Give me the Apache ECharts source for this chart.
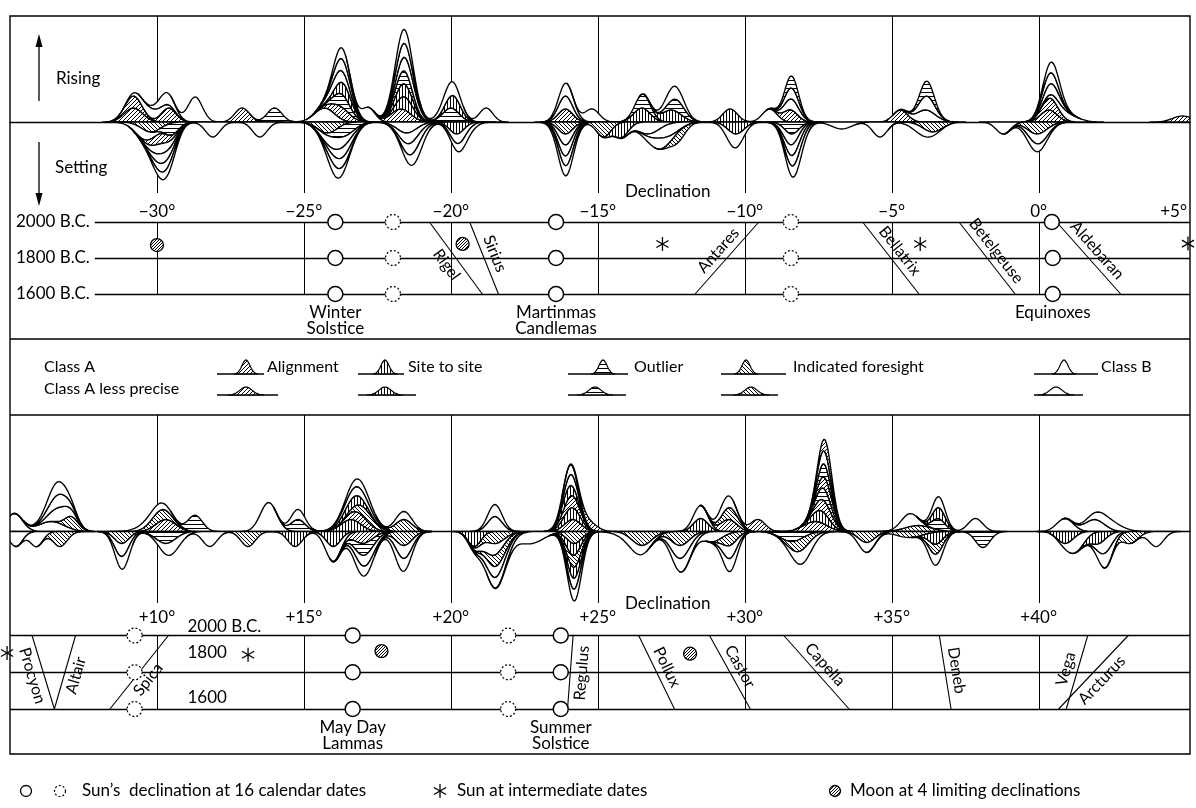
<!DOCTYPE html>
<html><head><meta charset="utf-8">
<script src="https://cdn.jsdelivr.net/npm/echarts@6/dist/echarts.min.js"></script>
<style>html,body{margin:0;padding:0;background:#fff}#c{width:1196px;height:808px}</style>
</head><body><div id="c"></div><script>
// ---------------- DATA ----------------
// bumps: [declination, height, class, spread]  a=alignment s=site-to-site o=outlier f=indicated foresight b=class B
const topRising = [
 [-30.8,14,'a',0.28],[-30.8,12,'a',0.25],[-29.6,14,'a',0.22],[-30.2,10,'b',0.35],[-29.7,12,'b',0.25],
 [-28.7,25,'b',0.22],[-27.1,14,'a',0.22],[-26.0,14,'o',0.22],
 [-24.3,14,'b',0.3],[-23.75,12,'a',0.28],[-23.7,13,'o',0.25],[-23.65,12,'s',0.25],[-23.8,12,'b',0.3],[-23.7,12,'b',0.27],[-23.7,11,'b',0.25],
 [-22.8,14,'b',0.2],
 [-21.7,13,'a',0.3],[-21.55,13,'s',0.25],[-21.6,13,'s',0.25],[-21.6,13,'o',0.25],[-21.5,14,'b',0.3],[-21.6,14,'b',0.27],[-21.6,14,'b',0.27],
 [-20.0,14,'o',0.25],[-19.9,13,'s',0.22],[-20.0,14,'b',0.28],[-18.8,14,'b',0.2],
 [-16.1,13,'a',0.22],[-16.1,13,'b',0.22],[-16.05,13,'b',0.24],[-15.2,13,'b',0.22],
 [-13.5,14,'s',0.25],[-13.45,14,'o',0.22],[-12.5,12,'s',0.3],[-12.3,12,'o',0.25],[-12.4,13,'b',0.27],
 [-10.5,13,'s',0.22],[-9.15,13,'b',0.22],
 [-8.45,12,'a',0.22],[-8.4,11,'b',0.24],[-8.4,11,'b',0.22],[-8.4,12,'o',0.2],
 [-4.7,12,'a',0.22],[-3.85,12,'b',0.3],[-3.8,14,'b',0.24],[-3.8,15,'o',0.2],
 [0.35,12,'a',0.25],[0.4,12,'a',0.25],[0.9,8,'b',0.35],[0.45,11,'b',0.25],[0.4,11,'b',0.24],[0.5,11,'b',0.25],
 [4.9,6,'a',0.3]
];
const topSetting = [
 [-30.2,10,'f',0.3],[-29.5,12,'o',0.22],[-30.5,10,'b',0.3],[-29.9,10,'a',0.28],[-29.85,10,'b',0.3],[-29.8,10,'b',0.28],[-29.75,9,'b',0.28],[-29.7,8,'b',0.3],
 [-28.1,15,'b',0.22],[-26.5,15,'b',0.22],
 [-24.2,11,'f',0.3],[-23.6,12,'o',0.3],[-23.9,12,'b',0.35],[-23.7,10,'b',0.3],[-23.8,10,'b',0.3],[-23.9,10,'b',0.25],
 [-21.5,11,'b',0.3],[-21.4,11,'b',0.3],[-21.3,12,'b',0.28],[-21.2,12,'b',0.28],
 [-19.8,12,'s',0.22],[-19.7,10,'b',0.25],[-19.6,9,'b',0.3],
 [-16.1,12,'f',0.22],[-16.1,11,'b',0.22],[-16.1,11,'b',0.23],[-16.05,10,'b',0.24],[-16.1,10,'b',0.28],
 [-14.8,15,'f',0.22],[-14.2,15,'s',0.22],
 [-13.3,12,'b',0.35],[-12.6,12,'b',0.35],[-12.9,11,'b',0.3],[-12.25,10,'f',0.22],
 [-10.3,12,'s',0.25],[-10.35,14,'b',0.25],
 [-8.4,12,'o',0.22],[-8.45,11,'b',0.24],[-8.35,11,'b',0.24],[-8.3,11,'b',0.25],[-8.25,12,'b',0.26],
 [-6.7,7,'b',0.3],[-5.4,15,'b',0.22],
 [-3.6,10,'f',0.3],[-4.0,8,'b',0.3],[-1.2,12,'b',0.22],
 [-0.05,12,'f',0.3],[0.0,10,'b',0.3],[-0.1,8,'b',0.3]
];
const bottomRising = [
 [5.15,18,'b',0.25],[6.4,10,'b',0.4],[7.1,12,'f',0.2],[6.7,14,'b',0.3],[6.65,13,'b',0.3],[6.6,13,'b',0.3],
 [10.3,12,'a',0.3],[10.1,11,'f',0.3],[9.9,8,'b',0.4],[11.3,16,'o',0.22],
 [13.8,29,'b',0.25],[14.8,12,'o',0.22],[14.8,10,'b',0.22],
 [16.6,12,'s',0.3],[16.9,10,'a',0.3],[17.1,10,'f',0.3],[16.7,10,'s',0.3],[16.8,9,'b',0.4],[16.9,8,'b',0.35],
 [18.4,12,'f',0.25],[18.4,8,'b',0.25],
 [21.5,15,'b',0.22],[21.5,12,'b',0.22],
 [24.15,12,'a',0.25],[24.1,12,'s',0.25],[24.1,12,'a',0.25],[24.0,11,'s',0.22],[24.1,11,'b',0.22],[24.05,10,'b',0.22],[24.7,8,'a',0.25],
 [28.5,13,'s',0.22],[28.5,13,'b',0.22],
 [29.45,12,'a',0.25],[29.5,12,'f',0.25],[29.4,12,'b',0.25],[30.45,12,'a',0.22],
 [32.4,10,'a',0.35],[32.6,12,'s',0.25],[32.7,12,'a',0.25],[32.7,12,'o',0.22],[32.75,12,'a',0.22],[32.7,13,'o',0.2],[32.7,13,'b',0.22],[32.8,13,'a',0.2],
 [35.9,6,'f',0.4],[35.6,13,'b',0.25],
 [36.6,11,'o',0.2],[36.6,11,'s',0.2],[36.6,11,'b',0.2],[37.85,13,'b',0.22],
 [40.9,13,'b',0.25],[41.9,12,'b',0.3],[42.3,10,'b',0.4]
];
const bottomSetting = [
 [5.2,15,'b',0.2],[5.9,15,'b',0.2],[6.7,15,'f',0.22],
 [8.8,12,'f',0.22],[8.8,13,'b',0.22],[8.85,13,'b',0.22],
 [10.3,12,'o',0.3],[10.5,13,'b',0.3],[11.8,15,'b',0.22],[13.1,15,'f',0.22],[14.7,15,'s',0.22],
 [16.0,15,'s',0.22],[16.0,15,'b',0.25],[17.0,12,'a',0.3],[17.05,12,'o',0.3],[17.1,11,'b',0.3],[17.0,10,'b',0.3],
 [18.4,14,'f',0.25],[18.4,13,'b',0.25],[18.35,13,'b',0.25],[20.8,15,'s',0.2],
 [21.5,12,'f',0.3],[21.4,12,'b',0.3],[21.6,12,'f',0.3],[21.5,11,'b',0.3],[21.6,11,'b',0.35],[22.7,12,'b',0.4],
 [24.2,12,'f',0.22],[24.15,12,'s',0.22],[24.2,12,'f',0.22],[24.2,11,'s',0.22],[24.2,11,'b',0.22],[24.25,12,'b',0.22],
 [26.5,14,'f',0.3],[26.3,10,'b',0.4],[27.8,14,'f',0.28],[27.8,13,'b',0.3],[27.9,14,'b',0.3],[28.9,10,'b',0.3],
 [29.5,12,'f',0.22],[29.5,13,'b',0.22],[29.5,13,'b',0.22],
 [31.6,10,'o',0.35],[31.9,12,'f',0.3],[32.0,14,'b',0.3],
 [34.15,11,'f',0.25],[34.15,10,'b',0.25],[35.6,6,'f',0.4],
 [36.5,12,'s',0.22],[36.5,10,'f',0.22],[36.5,11,'b',0.22],[38.1,16,'o',0.22],
 [40.9,12,'s',0.25],[41.3,16,'b',0.25],[42.0,12,'s',0.25],[42.3,14,'b',0.22],[42.3,15,'b',0.22],[43.1,12,'f',0.25],[44.0,15,'b',0.22]
];
const topTicks = [-30,-25,-20,-15,-10,-5,0];
const bottomTicks = [10,15,20,25,30,35,40];
const rowYears = [2000,1800,1600];
const rowLabelsTop = ['2000 B.C.','1800 B.C.','1600 B.C.'];
const rowLabelsBottom = ['2000 B.C.','1800','1600'];
const topSunSolid = [[-23.93,2000],[-23.93,1800],[-23.93,1600],[-16.42,2000],[-16.42,1800],[-16.42,1600],[0.45,2000],[0.48,1800],[0.48,1600]];
const topSunDashed = [[-21.97,2000],[-21.97,1800],[-21.97,1600],[-8.43,2000],[-8.43,1800],[-8.43,1600]];
const topSunStar = [[-12.8,1878],[-4.03,1878],[5.08,1880]];
const topMoon = [[-30.0,1872],[-19.6,1878]];
const bottomSunSolid = [[16.66,2000],[16.66,1800],[16.66,1600],[23.74,2000],[23.74,1800],[23.74,1600]];
const bottomSunDashed = [[9.24,2000],[9.24,1800],[9.24,1600],[21.95,2000],[21.95,1800],[21.95,1600]];
const bottomSunStar = [[13.1,1895],[4.9,1905]];
const bottomMoon = [[17.64,1915],[28.14,1901]];
// stars: [name, declination at 2000 B.C., declination at 1600 B.C.]
const topStars = [['Rigel',-20.73,-18.93],['Sirius',-19.36,-18.38],['Antares',-9.52,-11.69],['Bellatrix',-5.99,-4.07],['Betelgeuse',-2.71,-0.80],['Aldebaran',0.61,2.79]];
const bottomStars = [['Procyon',5.75,6.51],['Altair',7.23,6.51],['Spica',10.39,8.40],['Regulus',24.16,23.97],['Pollux',26.39,27.61],['Castor',28.80,30.19],['Capella',31.33,33.55],['Deneb',36.62,37.02],['Vega',41.67,40.94],['Arcturus',43.05,40.68]];
const topNotes = [[-23.93,'Winter\nSolstice'],[-16.42,'Martinmas\nCandlemas'],[0.48,'Equinoxes']];
const bottomNotes = [[16.66,'May Day\nLammas'],[23.74,'Summer\nSolstice']];

// ---------------- STYLE ----------------
const FONT = 'Lato, "Open Sans", sans-serif';
const FS = 17;
const WIDEN = 1.12;
const LW = 1.35;
const rowLabelOffset = [-9,-20,-11];
const starSide = {Rigel:1,Sirius:-1,Antares:-1,Bellatrix:-1,Betelgeuse:-1,Aldebaran:-1,Procyon:1,Altair:1,Spica:1,Regulus:1,Pollux:-1,Castor:-1,Capella:-1,Deneb:-1,Vega:-1,Arcturus:1};
function makePattern(kind){
  const S = kind==='s'?3:(kind==='m'?3:4);
  const c=document.createElement('canvas'); c.width=S; c.height=S;
  const g=c.getContext('2d'); g.fillStyle='#fff'; g.fillRect(0,0,S,S);
  g.strokeStyle='#000'; g.lineWidth=1; g.beginPath();
  if(kind==='o'){ g.moveTo(0,0.5); g.lineTo(S,0.5);}
  else if(kind==='s'){ g.moveTo(0.5,0); g.lineTo(0.5,S);}
  else if(kind==='a'||kind==='m'){ g.moveTo(-1,S+1); g.lineTo(S+1,-1); g.moveTo(-1,1); g.lineTo(1,-1); g.moveTo(S-1,S+1); g.lineTo(S+1,S-1);}
  else if(kind==='f'){ g.moveTo(-1,-1); g.lineTo(S+1,S+1); g.moveTo(S-1,-1); g.lineTo(S+1,1); g.moveTo(-1,S-1); g.lineTo(1,S+1);}
  g.stroke(); return {image:c, repeat:'repeat'};
}
const PAT = {a:makePattern('a'), s:makePattern('s'), o:makePattern('o'), f:makePattern('f'), m:makePattern('m'), b:'#fff'};

function g(b, x){ const s=(b[3]||0.25)*WIDEN; const d=(x-b[0])/s; return Math.abs(d)>4?0:b[1]*Math.exp(-0.5*d*d); }
function bumpSeries(ai, list, dir){
  return {type:'custom', xAxisIndex:ai, yAxisIndex:ai, z:3, clip:true, silent:true,
    data: list.map(b=>[b[0], dir*b[1]]),
    renderItem:(params, api)=>{
      const i=params.dataIndex, b=list[i], s=(b[3]||0.25)*WIDEN;
      const up=[], lo=[]; const n=40;
      for(let k=0;k<=n;k++){
        const x=b[0]-3.3*s+6.6*s*k/n; let low=0;
        for(let j=0;j<i;j++) low+=g(list[j],x);
        const top=low+g(b,x);
        up.push(api.coord([x,dir*top])); lo.push(api.coord([x,dir*low]));
      }
      return {type:'polygon', shape:{points:up.concat(lo.reverse())},
        style:{fill:PAT[b[2]], stroke:'#000', lineWidth:LW}};
    }};
}
function vlineSeries(ai, ticks){
  return {type:'custom', xAxisIndex:ai, yAxisIndex:ai, z:1, silent:true, data:ticks.map(t=>[t]),
    renderItem:(params, api)=>{
      const cs=params.coordSys; const x=Math.round(api.coord([api.value(0), ai%2?1800:0])[0])+0.5;
      return {type:'line', shape:{x1:x,y1:cs.y,x2:x,y2:cs.y+cs.height}, style:{stroke:'#000', lineWidth:1}};
    }};
}
function markerSeries(ai, pts, kind){
  return {type:'custom', xAxisIndex:ai, yAxisIndex:ai, z:6, clip:false, silent:true, data:pts,
    renderItem:(params, api)=>{
      const p=api.coord([api.value(0), api.value(1)]);
      if(kind==='star'){
        const ch=[]; for(const a of [90,30,150]){const r=a*Math.PI/180;
          ch.push({type:'line', shape:{x1:p[0]-7*Math.cos(r),y1:p[1]-7*Math.sin(r),x2:p[0]+7*Math.cos(r),y2:p[1]+7*Math.sin(r)}, style:{stroke:'#000',lineWidth:1.3}});}
        return {type:'group', children:ch};
      }
      if(kind==='moon') return {type:'circle', shape:{cx:p[0],cy:p[1],r:6.5}, style:{fill:PAT.m, stroke:'#000', lineWidth:1.3}};
      return {type:'circle', shape:{cx:p[0],cy:p[1],r:7.5}, style:{fill:'#fff', stroke:'#000', lineWidth:kind==='dash'?1.2:1.5, lineDash:kind==='dash'?[2,2]:null}};
    }};
}
function starSeries(ai, stars){
  return {type:'custom', xAxisIndex:ai, yAxisIndex:ai, z:4, clip:false, silent:true, data:stars.map(s=>[s[1],s[2]]),
    renderItem:(params, api)=>{
      const name=stars[params.dataIndex][0];
      const a=api.coord([api.value(0),2000]), b=api.coord([api.value(1),1600]);
      const L=a[0]<=b[0]?a:b, R=a[0]<=b[0]?b:a;
      const dx=R[0]-L[0], dy=R[1]-L[1], len=Math.hypot(dx,dy);
      const ang=Math.atan2(dy,dx), nx=-dy/len, ny=dx/len, sd=starSide[name]||1;
      const mx=(a[0]+b[0])/2+sd*nx*11.5, my=(a[1]+b[1])/2+sd*ny*11.5;
      return {type:'group', children:[
        {type:'line', shape:{x1:a[0],y1:a[1],x2:b[0],y2:b[1]}, style:{stroke:'#000',lineWidth:1.1}},
        {type:'text', x:mx, y:my, rotation:-ang, style:{text:name, font:'16px '+FONT, fill:'#000', align:'center', verticalAlign:'middle', textAlign:'center', textVerticalAlign:'middle'}}
      ]};
    }};
}
function noteSeries(ai, notes, dy){
  return {type:'custom', xAxisIndex:ai, yAxisIndex:ai, z:6, clip:false, silent:true, data:notes.map(n=>[n[0],1600]),
    renderItem:(params, api)=>{
      const p=api.coord([api.value(0),1600]);
      return {type:'text', x:p[0], y:p[1]+dy, style:{text:notes[params.dataIndex][1], font:FS+'px '+FONT, lineHeight:15.5, fill:'#000', align:'center', verticalAlign:'top', textAlign:'center', textVerticalAlign:'top'}};
    }};
}
function rowLabelSeries(ai, years, labels, dec){
  return {type:'custom', xAxisIndex:ai, yAxisIndex:ai, z:6, clip:false, silent:true, data:years.map(y=>[dec,y]),
    renderItem:(params, api)=>{
      const p=api.coord([api.value(0),api.value(1)]);
      return {type:'text', x:p[0], y:p[1]+rowLabelOffset[params.dataIndex], style:{text:labels[params.dataIndex], font:FS+'px '+FONT, fill:'#000', align:'left', verticalAlign:'middle', textAlign:'left', textVerticalAlign:'middle'}};
    }};
}
function glyph(x0,x1,cx,base,H,s,kind){
  const pts=[]; for(let k=0;k<=30;k++){const x=cx-3*s+6*s*k/30; pts.push([x, base-H*Math.exp(-0.5*((x-cx)/s)**2)]);}
  return [
    {type:'line', shape:{x1:x0,y1:base,x2:x1,y2:base}, style:{stroke:'#000',lineWidth:1.3}},
    {type:'polygon', shape:{points:pts}, style:{fill:PAT[kind], stroke:'#000', lineWidth:1.2}}
  ];
}
function txt(x,y,t,size,extra){ return Object.assign({type:'text', x:x, y:y, style:{text:t, font:(size||FS)+'px '+FONT, fill:'#000', align:'left', verticalAlign:'middle', textAlign:'left', textVerticalAlign:'middle'}}, extra||{}); }
function hline(x1,x2,y,w){ return {type:'line', shape:{x1:x1,y1:y,x2:x2,y2:y}, style:{stroke:'#000', lineWidth:w||1.3}}; }
function asterisk(cx,cy,r){ const out=[]; for(const a of [90,30,150]){const t=a*Math.PI/180; out.push({type:'line', shape:{x1:cx-r*Math.cos(t),y1:cy-r*Math.sin(t),x2:cx+r*Math.cos(t),y2:cy+r*Math.sin(t)}, style:{stroke:'#000',lineWidth:1.3}});} return out; }

const fmtTop = v => (v%5!==0||v===-35)?'':(v===5?'{r|+5\u00b0}':(v<0?'\u2212'+(-v)+'\u00b0':(v>0?'+'+v+'\u00b0':'0\u00b0')));
const fmtBottom = v => (v%5!==0||v===5||v===45)?'':'+'+v+'\u00b0';
const axisCommon = {type:'value', axisTick:{show:false}, splitLine:{show:false}};

const graphics = [
  {type:'rect', shape:{x:10,y:16,width:1180,height:738}, style:{fill:null, stroke:'#000', lineWidth:1.4}, z:10},
  hline(10,1190,339), hline(10,1190,415),
  {type:'line', shape:{x1:39,y1:101,x2:39,y2:44}, style:{stroke:'#000',lineWidth:1.3}},
  {type:'polygon', shape:{points:[[39,34],[35.5,47],[42.5,47]]}, style:{fill:'#000'}},
  {type:'line', shape:{x1:39,y1:142,x2:39,y2:195}, style:{stroke:'#000',lineWidth:1.3}},
  {type:'polygon', shape:{points:[[39,206],[35.5,193],[42.5,193]]}, style:{fill:'#000'}},
  txt(56,79,'Rising'), txt(55,168,'Setting'),
  txt(625,192,'Declination'), txt(625,604,'Declination'),
  txt(44,367,'Class A',16), txt(44,389,'Class A less precise',16),
  txt(267,367,'Alignment',16), txt(408,367,'Site to site',16), txt(634,367,'Outlier',16), txt(793,367,'Indicated foresight',16), txt(1101,367,'Class B',16),
  ...glyph(217,264,246,374,14,4,'a'), ...glyph(358,404,385,374,14,4,'s'), ...glyph(568,628,603,374,14,4,'o'), ...glyph(721,786,746,374,14,4,'f'), ...glyph(1034,1098,1064,374,14,4,'b'),
  ...glyph(217,278,246,395,8,6,'a'), ...glyph(358,416,385,395,8,6,'s'), ...glyph(568,626,595,395,8,6,'o'), ...glyph(721,778,751,395,8,6,'f'), ...glyph(1034,1083,1056,395,8,6,'b'),
  {type:'circle', shape:{cx:26,cy:791,r:5.5}, style:{fill:'#fff',stroke:'#000',lineWidth:1.3}},
  {type:'circle', shape:{cx:60,cy:791,r:5.5}, style:{fill:'#fff',stroke:'#000',lineWidth:1.2,lineDash:[2,2]}},
  txt(82,791,'Sun\u2019s  declination at 16 calendar dates'),
  ...asterisk(440,791,7),
  txt(457,791,'Sun at intermediate dates'),
  {type:'circle', shape:{cx:835,cy:791,r:5.5}, style:{fill:PAT.m,stroke:'#000',lineWidth:1.3}},
  txt(850,791,'Moon at 4 limiting declinations')
];

const gridBase = {left:10, width:1180, outerBoundsMode:'none', containLabel:false};
const labelStyle = {fontFamily:FONT, fontSize:FS, color:'#000'};
const option = {
  animation:false, backgroundColor:'#fff',
  grid:[
    Object.assign({}, gridBase, {top:16, height:177}),
    Object.assign({}, gridBase, {top:222, height:72}),
    Object.assign({}, gridBase, {top:415, height:188}),
    Object.assign({}, gridBase, {top:635.5, height:73.5})
  ],
  xAxis:[
    Object.assign({}, axisCommon, {gridIndex:0, min:-35, max:5.15, interval:5, axisLine:{show:true, onZero:true, lineStyle:{color:'#000',width:1.4}}, axisLabel:{show:false}}),
    Object.assign({}, axisCommon, {gridIndex:1, min:-35, max:5.15, interval:5, position:'top', axisLine:{show:false},
      axisLabel:Object.assign({show:true, showMaxLabel:false, margin:2, formatter:fmtTop, rich:{r:Object.assign({padding:[0,24,0,0]}, labelStyle)}}, labelStyle)}),
    Object.assign({}, axisCommon, {gridIndex:2, min:5, max:45.15, interval:5, axisLine:{show:true, onZero:true, lineStyle:{color:'#000',width:1.4}}, axisLabel:{show:false}}),
    Object.assign({}, axisCommon, {gridIndex:3, min:5, max:45.15, interval:5, position:'top', axisLine:{show:false},
      axisLabel:Object.assign({show:true, showMaxLabel:false, margin:9, formatter:fmtBottom}, labelStyle)})
  ],
  yAxis:[
    {gridIndex:0, type:'value', min:-71, max:106, show:false},
    {gridIndex:1, type:'value', min:1600, max:2000, interval:200, axisLine:{show:false}, axisTick:{show:false},
      axisLabel:Object.assign({show:true, inside:true, margin:0, formatter:v=>rowLabelsTop[rowYears.indexOf(v)]||'', backgroundColor:'#fff', padding:[1,5,1,6]}, labelStyle),
      splitLine:{show:true, lineStyle:{color:'#000', width:1.3}}},
    {gridIndex:2, type:'value', min:-71.5, max:116.5, show:false},
    {gridIndex:3, type:'value', min:1600, max:2000, interval:200, axisLine:{show:false}, axisTick:{show:false}, axisLabel:{show:false},
      splitLine:{show:true, lineStyle:{color:'#000', width:1.3}}}
  ],
  series:[
    vlineSeries(0, topTicks), vlineSeries(1, topTicks), vlineSeries(2, bottomTicks), vlineSeries(3, bottomTicks),
    bumpSeries(0, topRising, 1), bumpSeries(0, topSetting, -1),
    bumpSeries(2, bottomRising, 1), bumpSeries(2, bottomSetting, -1),
    starSeries(1, topStars), starSeries(3, bottomStars),
    markerSeries(1, topSunSolid, 'sun'), markerSeries(1, topSunDashed, 'dash'), markerSeries(1, topSunStar, 'star'), markerSeries(1, topMoon, 'moon'),
    markerSeries(3, bottomSunSolid, 'sun'), markerSeries(3, bottomSunDashed, 'dash'), markerSeries(3, bottomSunStar, 'star'), markerSeries(3, bottomMoon, 'moon'),
    noteSeries(1, topNotes, 11), noteSeries(3, bottomNotes, 11),
    rowLabelSeries(3, rowYears, rowLabelsBottom, 11.04)
  ],
  graphic: graphics
};
const chart = echarts.init(document.getElementById('c'), null, {renderer:'canvas'});
chart.setOption(option);
</script></body></html>
